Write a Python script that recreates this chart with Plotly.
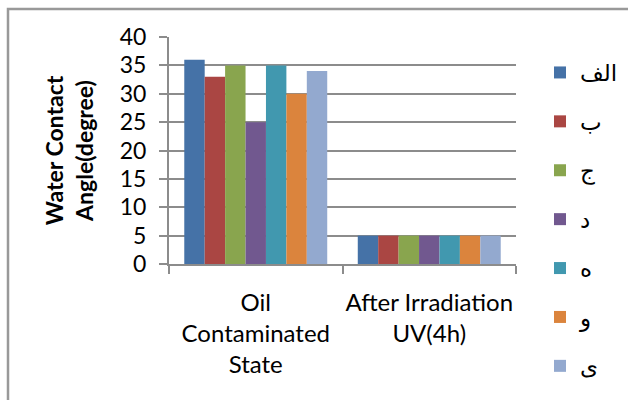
import plotly.graph_objects as go

# Categories (line breaks mark how each label wraps under the axis)
categories = ["Oil<br>Contaminated<br>State", "After Irradiation<br>UV(4h)"]

# Series names and their water contact angles (degree) per category
series_names = ["الف", "ب", "ج", "د", "ه", "و", "ی"]
oil_contaminated = [36, 33, 35, 25, 35, 30, 34]
after_uv = [5, 5, 5, 5, 5, 5, 5]

colors = ["#4572A7", "#AA4643", "#89A54E", "#71588F", "#4198AF", "#DB843D", "#93A9CF"]

y_ticks = [0, 5, 10, 15, 20, 25, 30, 35, 40]

FONT = "Lato, 'DejaVu Sans', sans-serif"
GRID = "#8c8c8c"

fig = go.Figure()
for i, name in enumerate(series_names):
    fig.add_trace(go.Bar(
        x=categories,
        y=[oil_contaminated[i], after_uv[i]],
        name=name,
        marker=dict(color=colors[i], line=dict(width=0)),
        legendgroup=f"g{i}",
    ))

# Plot area in pixels: x 169..516, y 37..264
L, R, T, B = 169, 516, 37, 264
W, H = 628, 400
pw, ph = R - L, B - T

fig.update_layout(
    width=W, height=H,
    margin=dict(l=L, r=W - R, t=T, b=H - B, pad=0, autoexpand=False),
    paper_bgcolor="white",
    plot_bgcolor="white",
    barmode="group",
    bargap=0.176,
    bargroupgap=0,
    font=dict(family=FONT, color="black"),
    showlegend=True,
    legend=dict(
        x=(540 - L) / pw, xanchor="left",
        yref="container", y=1 - 51 / H, yanchor="top",
        traceorder="grouped",
        tracegroupgap=16,
        font=dict(size=23, family="'DejaVu Sans', sans-serif"),
        bgcolor="rgba(0,0,0,0)",
        maxheight=1.0,
    ),
    xaxis=dict(
        automargin=False,
        tickangle=0,
        showgrid=False,
        showline=True, linecolor=GRID, linewidth=2,
        ticks="outside", tickson="boundaries", ticklen=8,
        tickcolor=GRID, tickwidth=2,
        tickfont=dict(size=24, family=FONT),
        ticklabelstandoff=16,
        fixedrange=True,
    ),
    yaxis=dict(
        automargin=False,
        range=[0, 40],
        tickvals=y_ticks,
        showgrid=True, gridcolor=GRID, gridwidth=2,
        showline=True, linecolor=GRID, linewidth=2,
        ticks="outside", ticklen=8, tickcolor=GRID, tickwidth=2,
        tickfont=dict(size=23, family=FONT),
        ticklabelstandoff=8,
        zeroline=False,
        title=dict(
            text="<b>Water Contact<br>Angle(degree)</b>",
            font=dict(size=23, family=FONT),
            standoff=20,
        ),
        fixedrange=True,
    ),
)

# Outer chart-area frame
fig.add_shape(
    type="rect", xref="paper", yref="paper",
    x0=(8 - L) / pw, x1=(W + 20 - L) / pw,
    y0=(B - 9) / ph, y1=(B - H - 20) / ph,
    line=dict(color="#999999", width=2.5),
    fillcolor="rgba(0,0,0,0)",
    layer="below",
)

fig.write_html("out.html")
